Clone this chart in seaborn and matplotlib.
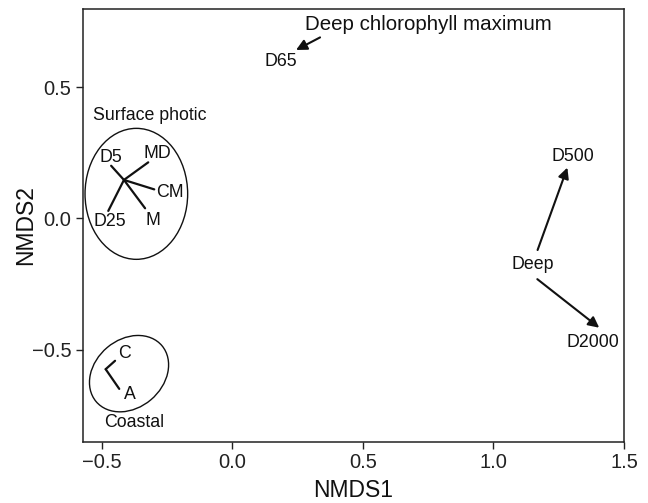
import numpy as np
import pandas as pd
import matplotlib
matplotlib.use("Agg")
import matplotlib.pyplot as plt
from matplotlib.patches import Ellipse
import seaborn as sns

# ── Data (NMDS coordinates) ─────────────────────────────────────────────────
surface_center = (-0.415, 0.146)
surface_sites = ["D5", "MD", "CM", "M", "D25"]
surface_end_x = [-0.464, -0.322, -0.299, -0.334, -0.475]
surface_end_y = [0.200, 0.213, 0.110, 0.038, 0.028]
surface_lab_x = [-0.464, -0.287, -0.239, -0.305, -0.471]
surface_lab_y = [0.232, 0.245, 0.098, -0.007, -0.013]

coastal_vertex = (-0.485, -0.575)
coastal_sites = ["C", "A"]
coastal_end_x = [-0.449, -0.433]
coastal_end_y = [-0.543, -0.650]
coastal_lab_x = [-0.411, -0.394]
coastal_lab_y = [-0.514, -0.673]

deep_label = (1.150, -0.178)
deep_sites = ["D500", "D2000"]
deep_start_x = [1.169, 1.168]
deep_start_y = [-0.121, -0.232]
deep_tip_x = [1.283, 1.405]
deep_tip_y = [0.193, -0.417]
deep_lab_x = [1.303, 1.380]
deep_lab_y = [0.235, -0.474]

dcm_site = "D65"
dcm_site_xy = (0.185, 0.599)
dcm_title_xy = (0.751, 0.740)
dcm_arrow_start = (0.336, 0.689)
dcm_arrow_tip = (0.244, 0.641)

groups = ["Surface photic", "Coastal"]
group_lab_x = [-0.315, -0.375]
group_lab_y = [0.393, -0.778]
ellipse_cx = [-0.3675, -0.3955]
ellipse_cy = [0.093, -0.592]
ellipse_w = [0.393, 0.33]
ellipse_h = [0.499, 0.26]
ellipse_angle = [0, 40]

# ── Style ───────────────────────────────────────────────────────────────────
sns.set_style("ticks")
plt.rcParams["font.family"] = ["Liberation Sans", "DejaVu Sans"]
LAB = 12.8
INK = "#111111"

fig = plt.figure(figsize=(6.48, 5.03), dpi=100)
ax = fig.add_axes([0.128, 0.122, 0.835, 0.860])

# segment table for seaborn
rows = []
for i, s in enumerate(surface_sites):
    rows.append(dict(seg=s, x=surface_center[0], y=surface_center[1]))
    rows.append(dict(seg=s, x=surface_end_x[i], y=surface_end_y[i]))
for i, s in enumerate(coastal_sites):
    rows.append(dict(seg=s, x=coastal_vertex[0], y=coastal_vertex[1]))
    rows.append(dict(seg=s, x=coastal_end_x[i], y=coastal_end_y[i]))
segs = pd.DataFrame(rows)

sns.lineplot(data=segs, x="x", y="y", units="seg", estimator=None, sort=False,
             color=INK, linewidth=1.6, ax=ax, legend=False)

for i in range(len(groups)):
    ax.add_patch(Ellipse((ellipse_cx[i], ellipse_cy[i]), ellipse_w[i], ellipse_h[i],
                         angle=ellipse_angle[i], fill=False, edgecolor=INK, lw=1.0))
    ax.text(group_lab_x[i], group_lab_y[i], groups[i], ha="center", va="center",
            fontsize=LAB, color=INK)

for i, s in enumerate(surface_sites):
    ax.text(surface_lab_x[i], surface_lab_y[i], s, ha="center", va="center",
            fontsize=LAB, color=INK)
for i, s in enumerate(coastal_sites):
    ax.text(coastal_lab_x[i], coastal_lab_y[i], s, ha="center", va="center",
            fontsize=LAB, color=INK)

arrow_kw = dict(arrowstyle="-|>", color=INK, lw=1.5, mutation_scale=16,
                shrinkA=0, shrinkB=0)
ax.text(deep_label[0], deep_label[1], "Deep", ha="center", va="center",
        fontsize=LAB, color=INK)
for i, s in enumerate(deep_sites):
    ax.annotate("", xy=(deep_tip_x[i], deep_tip_y[i]),
                xytext=(deep_start_x[i], deep_start_y[i]), arrowprops=arrow_kw)
    ax.text(deep_lab_x[i], deep_lab_y[i], s, ha="center", va="center",
            fontsize=LAB, color=INK)

ax.text(dcm_site_xy[0], dcm_site_xy[1], dcm_site, ha="center", va="center",
        fontsize=LAB, color=INK)
ax.text(dcm_title_xy[0], dcm_title_xy[1], "Deep chlorophyll maximum",
        ha="center", va="center", fontsize=14.8, color=INK)
ax.annotate("", xy=dcm_arrow_tip, xytext=dcm_arrow_start, arrowprops=arrow_kw)

ax.set_xlim(-0.572, 1.5)
ax.set_ylim(-0.851, 0.797)
ax.set_xticks([-0.5, 0.0, 0.5, 1.0, 1.5])
ax.set_yticks([-0.5, 0.0, 0.5])
ax.set_xticklabels(["\u22120.5", "0.0", "0.5", "1.0", "1.5"])
ax.set_yticklabels(["\u22120.5", "0.0", "0.5"])
ax.tick_params(labelsize=14.5, length=5, width=1, color="#222222", colors="#222222")
for sp in ax.spines.values():
    sp.set_visible(True)
    sp.set_color("#222222")
    sp.set_linewidth(1.1)
ax.set_xlabel("NMDS1", fontsize=16.5, labelpad=5, color=INK)
ax.set_ylabel("NMDS2", fontsize=16.5, labelpad=-4, color=INK)

fig.savefig("out.png", dpi=100)
